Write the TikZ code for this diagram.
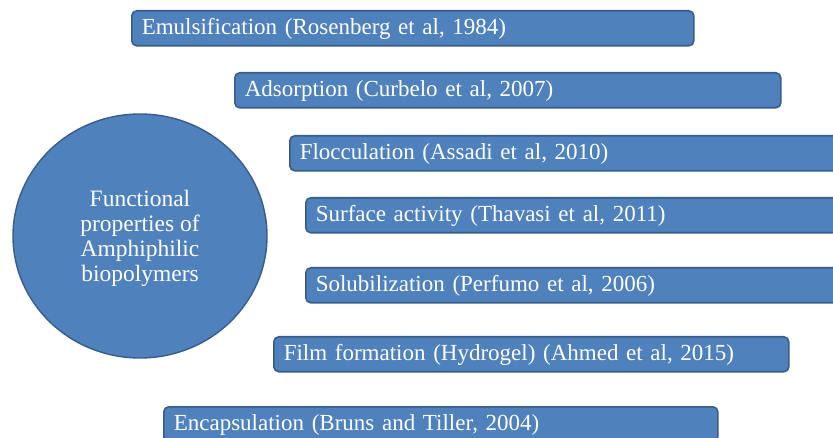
\documentclass[tikz,border=0pt]{standalone}
\usepackage{fontspec}
\setmainfont{Liberation Serif}
\usetikzlibrary{shapes.geometric}

\definecolor{boxblue}{HTML}{4F81BD}
\definecolor{edgeblue}{HTML}{385D8A}

\tikzset{
    propbox/.style={draw=edgeblue, line width=1.6pt, fill=boxblue, rounded corners=5pt,
        anchor=north west, minimum height=35pt, inner xsep=10pt, inner ysep=0pt,
        text height=16pt, text depth=3pt,
        align=left, text=white, font=\fontsize{23}{26}\selectfont},
    hubshape/.style={ellipse, draw=edgeblue, line width=1.4pt, fill=boxblue,
        minimum width=254pt, minimum height=244pt, inner sep=0pt, text depth=0pt,
        align=center, text=white, font=\fontsize{23.5}{25}\selectfont}
}

\begin{document}
\begin{tikzpicture}[x=1pt, y=-1pt]
                % Page frame
                \clip (0,0) rectangle (833,438);
                \fill[white] (0,0) rectangle (833,438);

                % Central circle
                \node[hubshape] (hub) at (140,236) {Functional\\properties of\\Amphiphilic\\biopolymers};

                % Property boxes
                \node[propbox, text width=542pt] (emul) at (131,10) {Emulsification (Rosenberg et al, 1984)};
                \node[propbox, text width=526pt] (adsorp) at (234,72) {Adsorption (Curbelo et al, 2007)};
                \node[propbox, text width=540pt] (floc) at (289,135) {Flocculation (Assadi et al, 2010)};
                \node[propbox, text width=524pt] (surf) at (305,197) {Surface activity (Thavasi et al, 2011)};
                \node[propbox, text width=524pt] (solub) at (305,267) {Solubilization (Perfumo et al, 2006)};
                \node[propbox, text width=495pt] (film) at (273,336) {Film formation (Hydrogel) (Ahmed et al, 2015)};
                \node[propbox, text width=534pt] (encap) at (163,406) {Encapsulation (Bruns and Tiller, 2004)};
            \end{tikzpicture}
\end{document}
